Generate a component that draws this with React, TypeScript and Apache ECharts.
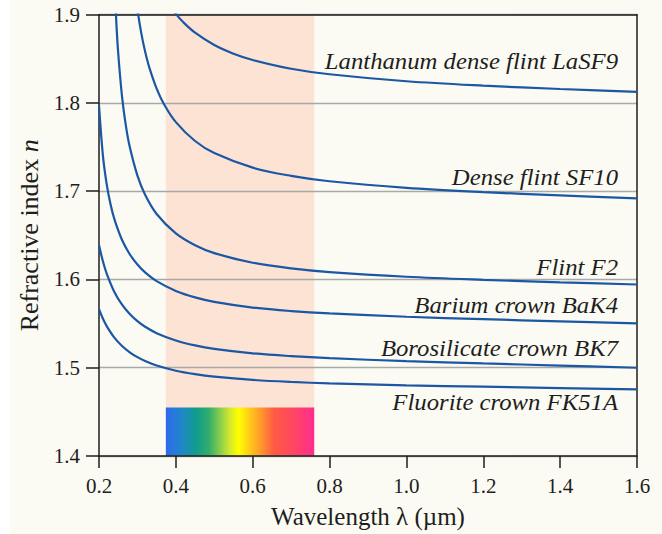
import React, { useEffect, useRef } from "react";
import * as echarts from "echarts";

// Wavelength (µm) sample points and refractive indices read for each glass
const lambdaBK7 = [0.2, 0.21, 0.22, 0.24, 0.26, 0.28, 0.3, 0.32, 0.35, 0.4, 0.45, 0.5, 0.6, 0.7, 0.8, 1.0, 1.2, 1.4, 1.6];
const indexBK7 = [1.6391, 1.6209, 1.6067, 1.5859, 1.5715, 1.5609, 1.5528, 1.5464, 1.5392, 1.5309, 1.5253, 1.5214, 1.5163, 1.5131, 1.5108, 1.5075, 1.5049, 1.5025, 1.5];

const lambdaFK51A = [0.2, 0.21, 0.22, 0.24, 0.26, 0.28, 0.3, 0.32, 0.35, 0.4, 0.45, 0.5, 0.6, 0.7, 0.8, 1.0, 1.2, 1.4, 1.6];
const indexFK51A = [1.5663, 1.5557, 1.5472, 1.5341, 1.5246, 1.5175, 1.512, 1.5076, 1.5025, 1.4966, 1.4927, 1.4899, 1.4862, 1.4839, 1.4823, 1.4801, 1.4785, 1.477, 1.4756];

const lambdaBaK4 = [0.2, 0.21, 0.22, 0.23, 0.24, 0.26, 0.28, 0.3, 0.32, 0.35, 0.4, 0.45, 0.5, 0.6, 0.7, 0.8, 1.0, 1.2, 1.4, 1.6];
const indexBaK4 = [1.7972, 1.7413, 1.708, 1.6852, 1.6684, 1.6447, 1.6286, 1.6169, 1.608, 1.5981, 1.587, 1.5797, 1.5747, 1.5682, 1.5642, 1.5615, 1.5578, 1.555, 1.5526, 1.5503];

const lambdaF2 = [0.24, 0.245, 0.25, 0.26, 0.27, 0.28, 0.3, 0.32, 0.35, 0.4, 0.45, 0.5, 0.6, 0.7, 0.8, 1.0, 1.2, 1.4, 1.6];
const indexF2 = [1.9411, 1.8921, 1.8563, 1.807, 1.7741, 1.7503, 1.7177, 1.696, 1.6742, 1.6522, 1.6388, 1.6299, 1.619, 1.6126, 1.6084, 1.6031, 1.5996, 1.5968, 1.5943];

const lambdaSF10 = [0.29, 0.3, 0.31, 0.32, 0.33, 0.35, 0.37, 0.4, 0.45, 0.5, 0.6, 0.7, 0.8, 1.0, 1.2, 1.4, 1.6];
const indexSF10 = [1.9429, 1.9062, 1.8791, 1.8582, 1.8415, 1.8163, 1.798, 1.7783, 1.7569, 1.7432, 1.7267, 1.7174, 1.7113, 1.7038, 1.699, 1.6953, 1.6919];

const lambdaLaSF9 = [0.38, 0.4, 0.42, 0.45, 0.5, 0.55, 0.6, 0.7, 0.8, 1.0, 1.2, 1.4, 1.6];
const indexLaSF9 = [1.9129, 1.9009, 1.8912, 1.8796, 1.8656, 1.8558, 1.8487, 1.8388, 1.8325, 1.8246, 1.8196, 1.8158, 1.8125];

const glassNames = [
  "Lanthanum dense flint LaSF9",
  "Dense flint SF10",
  "Flint F2",
  "Barium crown BaK4",
  "Borosilicate crown BK7",
  "Fluorite crown FK51A",
];

// visible band (µm) and top of the spectrum strip (n)
const visibleBand = [0.374, 0.76];
const spectrumTop = 1.455;

const xMin = 0.2, xMax = 1.6, xStep = 0.2;
const yMin = 1.4, yMax = 1.9, yStep = 0.1;

const FONT = "Liberation Serif";
const INK = "#1e1e1e";
const CURVE = "#1b57a5";

const zip = (xs: number[], ys: number[]) => xs.map((x, i) => [x, ys[i]]);

export default function App() {
  const ref = useRef<HTMLDivElement>(null);
  useEffect(() => {
    if (!ref.current) return;
    const chart = echarts.init(ref.current, undefined, { renderer: "svg" });

    const curves = [
      zip(lambdaLaSF9, indexLaSF9),
      zip(lambdaSF10, indexSF10),
      zip(lambdaF2, indexF2),
      zip(lambdaBaK4, indexBaK4),
      zip(lambdaBK7, indexBK7),
      zip(lambdaFK51A, indexFK51A),
    ];

    const labelPos = [
      [618, 61],
      [618, 177],
      [618, 267],
      [618, 305],
      [618, 348],
      [618, 402],
    ];

    const spectrum = new echarts.graphic.LinearGradient(0, 0, 1, 0, [
      { offset: 0, color: "#2d69f0" },
      { offset: 0.11, color: "#2088c6" },
      { offset: 0.2, color: "#0f9c8e" },
      { offset: 0.29, color: "#32ad6c" },
      { offset: 0.37, color: "#8ccf4a" },
      { offset: 0.43, color: "#d2e82c" },
      { offset: 0.49, color: "#ffff00" },
      { offset: 0.57, color: "#ffc61a" },
      { offset: 0.64, color: "#ff992a" },
      { offset: 0.73, color: "#ff5a44" },
      { offset: 0.84, color: "#ff4a5c" },
      { offset: 1, color: "#ff2d8e" },
    ]);

    const axisLineStyle = { color: INK, width: 1.5 };

    chart.setOption({
      animation: false,
      backgroundColor: "#fbfbf3",
      textStyle: { fontFamily: FONT },
      grid: { left: 99, right: 25, top: 14.7, bottom: 76.8, containLabel: false },
      xAxis: [
        {
          type: "value",
          min: xMin,
          max: xMax,
          interval: xStep,
          position: "bottom",
          axisLine: { show: true, onZero: false, lineStyle: axisLineStyle },
          axisTick: { show: true, length: 12, lineStyle: axisLineStyle },
          axisLabel: {
            formatter: (v: number) => v.toFixed(1),
            fontSize: 21,
            fontFamily: FONT,
            color: INK,
            margin: 19,
          },
          splitLine: { show: false },
          name: "Wavelength λ (µm)",
          nameLocation: "middle",
          nameGap: 48,
          nameTextStyle: { fontSize: 25, fontFamily: FONT, color: INK },
        },
        {
          type: "value",
          min: xMin,
          max: xMax,
          position: "top",
          axisLine: { show: true, onZero: false, lineStyle: axisLineStyle },
          axisTick: { show: false },
          axisLabel: { show: false },
          splitLine: { show: false },
        },
      ],
      yAxis: [
        {
          type: "value",
          min: yMin,
          max: yMax,
          interval: yStep,
          position: "left",
          axisLine: { show: true, onZero: false, lineStyle: axisLineStyle },
          axisTick: { show: true, length: 13, lineStyle: axisLineStyle },
          axisLabel: {
            formatter: (v: number) => v.toFixed(1),
            fontSize: 21,
            fontFamily: FONT,
            color: INK,
            margin: 19,
          },
          splitLine: { show: true, lineStyle: { color: "#a9a9a9", width: 1.3 } },
          name: "Refractive index {i|n}",
          nameLocation: "middle",
          nameRotate: 90,
          nameGap: 57,
          nameTextStyle: {
            fontSize: 26,
            fontFamily: FONT,
            color: INK,
            rich: { i: { fontStyle: "italic", fontSize: 26, fontFamily: FONT, color: INK } },
          },
        },
        {
          type: "value",
          min: yMin,
          max: yMax,
          position: "right",
          axisLine: { show: true, onZero: false, lineStyle: axisLineStyle },
          axisTick: { show: false },
          axisLabel: { show: false },
          splitLine: { show: false },
        },
      ],
      graphic: [
        { type: "rect", left: 0, top: 0, shape: { width: 10, height: 534 }, style: { fill: "#ffffff" }, z: -10 },
        ...glassNames.map((name, i) => ({
          type: "text",
          x: labelPos[i][0],
          y: labelPos[i][1],
          scaleX: 1.03,
          z: 50,
          style: {
            text: name,
            font: `italic 24px ${FONT}`,
            fill: INK,
            align: "right",
            verticalAlign: "middle",
            textAlign: "right",
            textVerticalAlign: "middle",
          },
        })),
      ],
      series: [
        {
          type: "custom",
          xAxisIndex: 0,
          yAxisIndex: 0,
          z: -1,
          silent: true,
          data: [[visibleBand[0], visibleBand[1]]],
          renderItem: (_params: any, api: any) => {
            const a = api.value(0);
            const b = api.value(1);
            const pTop = api.coord([a, yMax]);
            const pBot = api.coord([b, yMin]);
            const pSpec = api.coord([a, spectrumTop]);
            return {
              type: "group",
              children: [
                {
                  type: "rect",
                  shape: { x: pTop[0], y: pTop[1], width: pBot[0] - pTop[0], height: pBot[1] - pTop[1] },
                  style: { fill: "#fce3d4" },
                },
                {
                  type: "rect",
                  shape: { x: pTop[0], y: pSpec[1], width: pBot[0] - pTop[0], height: pBot[1] - pSpec[1] },
                  style: { fill: spectrum },
                },
              ],
            };
          },
        },
        ...curves.map((data, i) => ({
          name: glassNames[i],
          type: "line",
          xAxisIndex: 0,
          yAxisIndex: 0,
          data,
          showSymbol: false,
          smooth: 0.35,
          clip: true,
          silent: true,
          z: 3,
          lineStyle: { color: CURVE, width: 2.2 },
        })),
      ],
    });

    return () => chart.dispose();
  }, []);

  return <div ref={ref} style={{ position: "fixed", left: 0, top: 0, width: 662, height: 534 }} />;
}
